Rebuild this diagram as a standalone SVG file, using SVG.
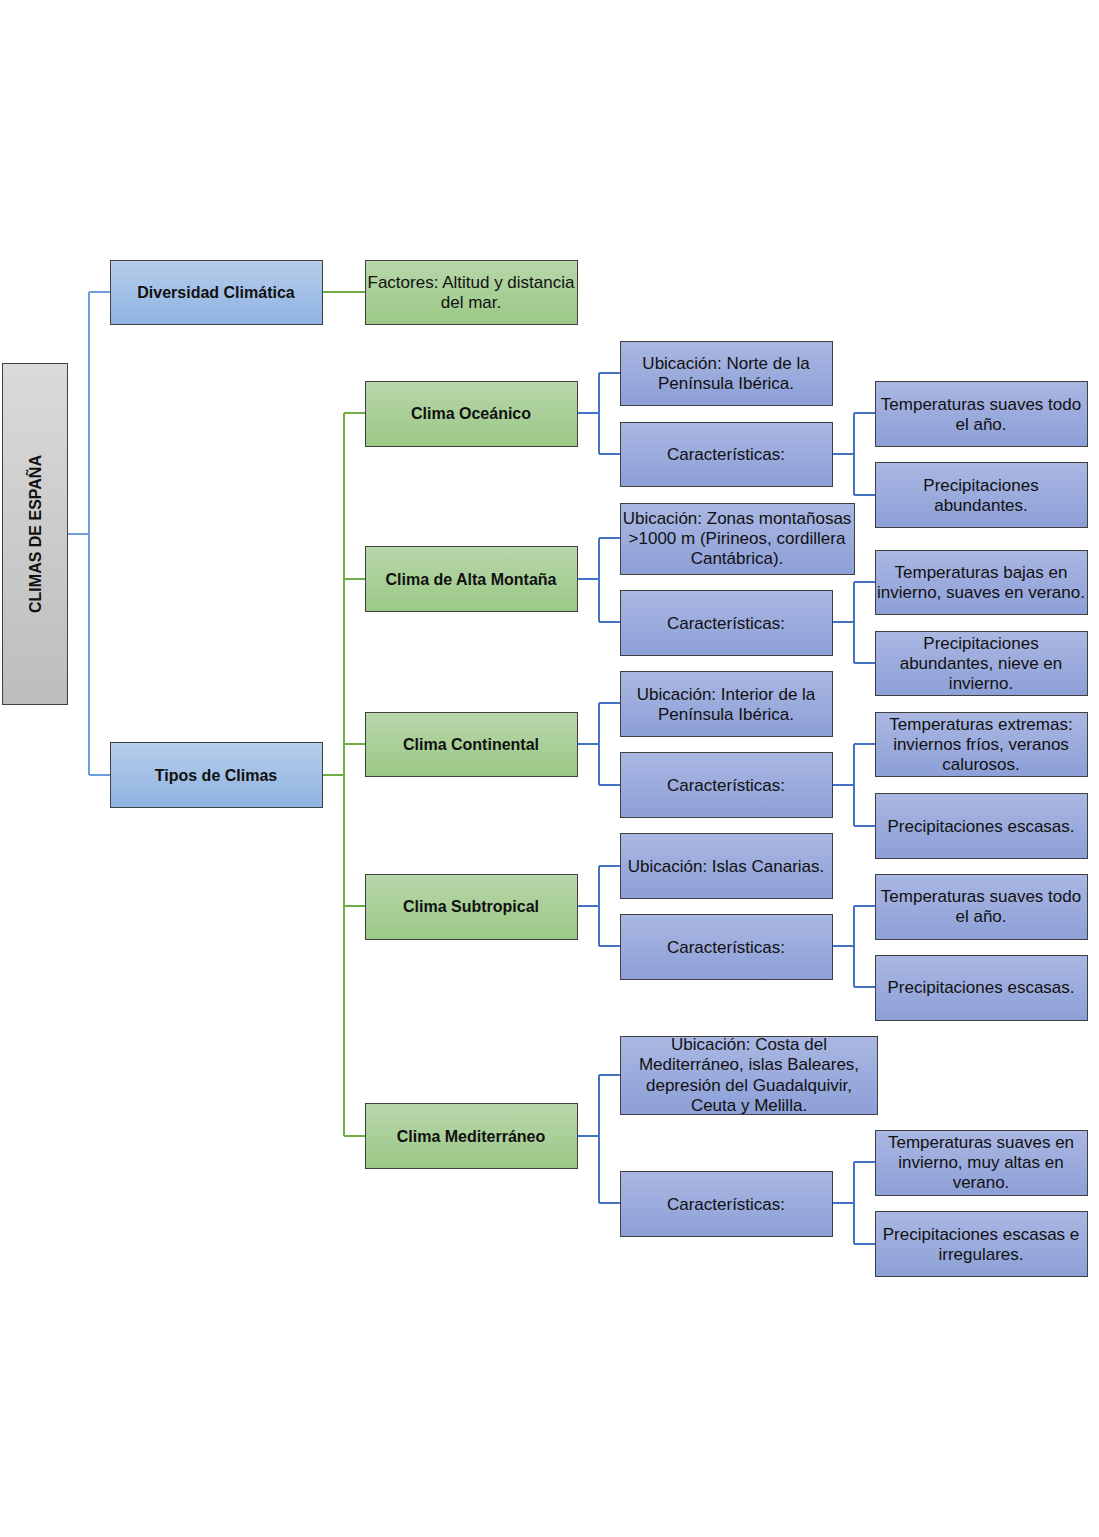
<svg xmlns="http://www.w3.org/2000/svg" width="1099" height="1537" viewBox="0 0 1099 1537">
<defs>
<linearGradient id="gGray" x1="0" y1="0" x2="0" y2="1"><stop offset="0" stop-color="#dadada"/><stop offset="1" stop-color="#bdbdbd"/></linearGradient>
<linearGradient id="gSky" x1="0" y1="0" x2="0" y2="1"><stop offset="0" stop-color="#b6cdea"/><stop offset="1" stop-color="#8fb3e2"/></linearGradient>
<linearGradient id="gGreen" x1="0" y1="0" x2="0" y2="1"><stop offset="0" stop-color="#b8d7aa"/><stop offset="1" stop-color="#9bc886"/></linearGradient>
<linearGradient id="gBlue" x1="0" y1="0" x2="0" y2="1"><stop offset="0" stop-color="#aab7e2"/><stop offset="1" stop-color="#8c9fd7"/></linearGradient>
</defs>
<style>
.n{stroke:#404040;stroke-width:1}
.gray{fill:url(#gGray)}
.sky{fill:url(#gSky)}
.green{fill:url(#gGreen)}
.blue{fill:url(#gBlue)}
text{font-family:"Liberation Sans",Arial,sans-serif;font-size:17px;fill:#111;text-anchor:middle}
.b{font-weight:bold;font-size:16px}
.c1{fill:none;stroke:#6b9fd8;stroke-width:2}
.c2{fill:none;stroke:#72ae48;stroke-width:2}
.c3{fill:none;stroke:#4472c4;stroke-width:2}
</style>
<rect width="1099" height="1537" fill="#fff"/>
<g id="connectors">
<path class="c1" d="M68 534H89M89 292V775M89 292H110M89 775H110"/>
<path class="c2" d="M322 292H365"/>
<path class="c2" d="M322 775H344M344 413V1136M344 413H365M344 579H365M344 744H365M344 906H365M344 1136H365"/>
<path class="c3" d="M577 413H599M599 373V454M599 373H620M599 454H620"/>
<path class="c3" d="M577 579H599M599 538V622M599 538H620M599 622H620"/>
<path class="c3" d="M577 744H599M599 703V785M599 703H620M599 785H620"/>
<path class="c3" d="M577 906H599M599 866V946M599 866H620M599 946H620"/>
<path class="c3" d="M577 1136H599M599 1075V1203M599 1075H620M599 1203H620"/>
<path class="c3" d="M832 454H854M854 413V495M854 413H875M854 495H875"/>
<path class="c3" d="M832 622H854M854 582V663M854 582H875M854 663H875"/>
<path class="c3" d="M832 785H854M854 744V826M854 744H875M854 826H875"/>
<path class="c3" d="M832 946H854M854 906V987M854 906H875M854 987H875"/>
<path class="c3" d="M832 1203H854M854 1162V1244M854 1162H875M854 1244H875"/>
</g>
<g id="root"><rect class="n gray" x="2.5" y="363.5" width="65" height="341"/><text class="b" transform="translate(41 534) rotate(-90)">CLIMAS DE ESPAÑA</text></g>
<g id="diversidad"><rect class="n sky" x="110.5" y="260.5" width="212" height="64"/><text class="b" x="216" y="298">Diversidad Climática</text></g>
<g id="factores"><rect class="n green" x="365.5" y="260.5" width="212" height="64"/><text x="471" y="288">Factores: Altitud y distancia</text><text x="471" y="308">del mar.</text></g>
<g id="tipos"><rect class="n sky" x="110.5" y="742.5" width="212" height="65"/><text class="b" x="216" y="781">Tipos de Climas</text></g>
<g id="oceanico"><rect class="n green" x="365.5" y="381.5" width="212" height="65"/><text class="b" x="471" y="419">Clima Oceánico</text></g>
<g id="montana"><rect class="n green" x="365.5" y="546.5" width="212" height="65"/><text class="b" x="471" y="585">Clima de Alta Montaña</text></g>
<g id="continental"><rect class="n green" x="365.5" y="712.5" width="212" height="64"/><text class="b" x="471" y="750">Clima Continental</text></g>
<g id="subtropical"><rect class="n green" x="365.5" y="874.5" width="212" height="65"/><text class="b" x="471" y="912">Clima Subtropical</text></g>
<g id="mediterraneo"><rect class="n green" x="365.5" y="1103.5" width="212" height="65"/><text class="b" x="471" y="1142">Clima Mediterráneo</text></g>
<g id="oc-ubic"><rect class="n blue" x="620.5" y="341.5" width="212" height="64"/><text x="726" y="369">Ubicación: Norte de la</text><text x="726" y="389">Península Ibérica.</text></g>
<g id="oc-car"><rect class="n blue" x="620.5" y="422.5" width="212" height="64"/><text x="726" y="460">Características:</text></g>
<g id="oc-temp"><rect class="n blue" x="875.5" y="381.5" width="212" height="65"/><text x="981" y="410">Temperaturas suaves todo</text><text x="981" y="430">el año.</text></g>
<g id="oc-prec"><rect class="n blue" x="875.5" y="462.5" width="212" height="65"/><text x="981" y="491">Precipitaciones</text><text x="981" y="511">abundantes.</text></g>
<g id="am-ubic"><rect class="n blue" x="620.5" y="503.5" width="234" height="71"/><text x="737" y="524">Ubicación: Zonas montañosas</text><text x="737" y="544">&gt;1000 m (Pirineos, cordillera</text><text x="737" y="564">Cantábrica).</text></g>
<g id="am-car"><rect class="n blue" x="620.5" y="590.5" width="212" height="65"/><text x="726" y="629">Características:</text></g>
<g id="am-temp"><rect class="n blue" x="875.5" y="550.5" width="212" height="64"/><text x="981" y="578">Temperaturas bajas en</text><text x="981" y="598">invierno, suaves en verano.</text></g>
<g id="am-prec"><rect class="n blue" x="875.5" y="631.5" width="212" height="64"/><text x="981" y="649">Precipitaciones</text><text x="981" y="669">abundantes, nieve en</text><text x="981" y="689">invierno.</text></g>
<g id="co-ubic"><rect class="n blue" x="620.5" y="671.5" width="212" height="65"/><text x="726" y="700">Ubicación: Interior de la</text><text x="726" y="720">Península Ibérica.</text></g>
<g id="co-car"><rect class="n blue" x="620.5" y="752.5" width="212" height="65"/><text x="726" y="791">Características:</text></g>
<g id="co-temp"><rect class="n blue" x="875.5" y="712.5" width="212" height="64"/><text x="981" y="730">Temperaturas extremas:</text><text x="981" y="750">inviernos fríos, veranos</text><text x="981" y="770">calurosos.</text></g>
<g id="co-prec"><rect class="n blue" x="875.5" y="793.5" width="212" height="65"/><text x="981" y="832">Precipitaciones escasas.</text></g>
<g id="su-ubic"><rect class="n blue" x="620.5" y="833.5" width="212" height="65"/><text x="726" y="872">Ubicación: Islas Canarias.</text></g>
<g id="su-car"><rect class="n blue" x="620.5" y="914.5" width="212" height="65"/><text x="726" y="953">Características:</text></g>
<g id="su-temp"><rect class="n blue" x="875.5" y="874.5" width="212" height="65"/><text x="981" y="902">Temperaturas suaves todo</text><text x="981" y="922">el año.</text></g>
<g id="su-prec"><rect class="n blue" x="875.5" y="955.5" width="212" height="65"/><text x="981" y="993">Precipitaciones escasas.</text></g>
<g id="me-ubic"><rect class="n blue" x="620.5" y="1036.5" width="257" height="78"/><text x="749" y="1050">Ubicación: Costa del</text><text x="749" y="1070">Mediterráneo, islas Baleares,</text><text x="749" y="1091">depresión del Guadalquivir,</text><text x="749" y="1111">Ceuta y Melilla.</text></g>
<g id="me-car"><rect class="n blue" x="620.5" y="1171.5" width="212" height="65"/><text x="726" y="1210">Características:</text></g>
<g id="me-temp"><rect class="n blue" x="875.5" y="1130.5" width="212" height="65"/><text x="981" y="1148">Temperaturas suaves en</text><text x="981" y="1168">invierno, muy altas en</text><text x="981" y="1188">verano.</text></g>
<g id="me-prec"><rect class="n blue" x="875.5" y="1211.5" width="212" height="65"/><text x="981" y="1240">Precipitaciones escasas e</text><text x="981" y="1260">irregulares.</text></g>
</svg>
